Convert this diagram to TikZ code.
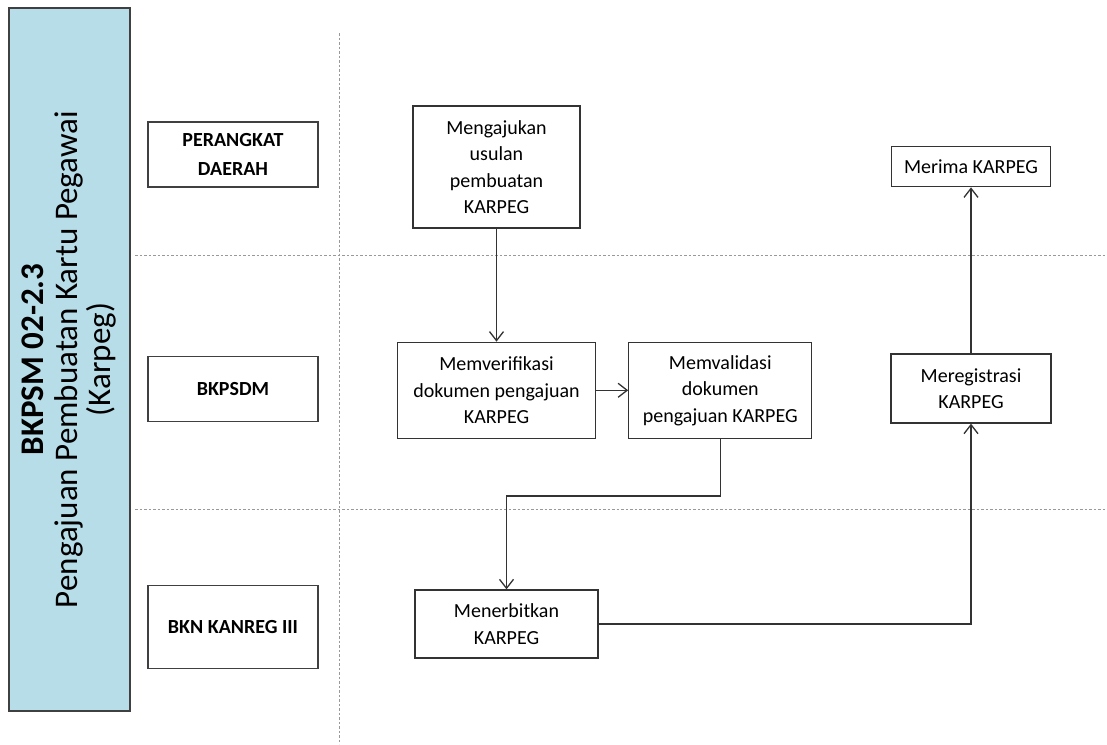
\documentclass[tikz,border=0pt]{standalone}
\usepackage{fontspec}
\setmainfont{Carlito}
\usepackage{tikz}
\usetikzlibrary{positioning,arrows.meta}
\definecolor{TitleBlue}{HTML}{B7DDE8}

\begin{document}
\begin{tikzpicture}[x=1pt,y=-1pt,
		titlebar/.style={rectangle, draw=black!75, fill=TitleBlue, line width=1.3pt, inner sep=0pt, minimum width=121pt, minimum height=703pt},
		titletext/.style={inner sep=0pt, align=center, font=\fontsize{33}{33.5}\selectfont},
		lanenode/.style={rectangle, draw=black!75, line width=1.3pt, inner sep=0pt, minimum width=170pt, align=center, font=\fontsize{20}{29}\selectfont\bfseries},
		stepnode/.style={rectangle, draw=black!80, line width=1.3pt, inner sep=0pt, align=center, font=\fontsize{20}{26.5}\selectfont},
		lanesep/.style={draw=black!40, dash pattern=on 2.5pt off 2pt, line width=0.9pt},
		flow/.style={draw=black!80, line width=1.3pt, -{Straight Barb[length=9pt,width=14pt]}}
		]
		\useasboundingbox (0,0) rectangle (1107,744);
		
		% Lanes
		\draw[lanesep] (135,255) -- (1107,255);
		\draw[lanesep] (135,509) -- (1107,509);
		\draw[lanesep] (339,33) -- (339,744);
		
		% Title
		\node[titlebar] (Bar) at (69.5,359.5) {};
		\node[titletext, rotate=90] (Title) at (Bar.center) {{\bfseries BKPSM 02-2.3}\\Pengajuan Pembuatan Kartu Pegawai\\(Karpeg)};
		
		% Lane labels
		\node[lanenode, minimum height=65pt] (Perangkat) at (233,154.5) {PERANGKAT\\DAERAH};
		\node[lanenode, minimum height=65pt] (Bkpsdm) [below=168pt of Perangkat] {BKPSDM};
		\node[lanenode, minimum height=83pt] (Bkn) [below=163pt of Bkpsdm] {BKN KANREG III};
		
		% Nodes
		\node[stepnode, minimum width=167pt, minimum height=122pt] (Usulan) at (496.5,167) {Mengajukan\\usulan\\pembuatan\\KARPEG};
		\node[stepnode, minimum width=198pt, minimum height=96pt] (Verifikasi) [below=113pt of Usulan] {Memverifikasi\\dokumen pengajuan\\KARPEG};
		\node[stepnode, minimum width=183pt, minimum height=96pt] (Validasi) [right=32pt of Verifikasi] {Memvalidasi\\dokumen\\pengajuan KARPEG};
		\node[stepnode, minimum width=183pt, minimum height=68pt] (Terbit) at (506.5,624) {Menerbitkan\\KARPEG};
		\node[stepnode, minimum width=160pt, minimum height=69pt] (Registrasi) at (971,388.5) {Meregistrasi\\KARPEG};
		\node[stepnode, minimum width=159pt, minimum height=40pt] (Terima) [above=166pt of Registrasi] {Merima KARPEG};
		
		% Main Paths
		\path[flow] (Usulan) edge [] (Verifikasi);
		\path[flow] (Verifikasi) edge [] (Validasi);
		\draw[flow] (Validasi.south) -- ++(0,57) -| (Terbit.north);
		\draw[flow] (Terbit.east) -| (Registrasi.south);
		\path[flow] (Registrasi) edge [] (Terima);
	\end{tikzpicture}
\end{document}
